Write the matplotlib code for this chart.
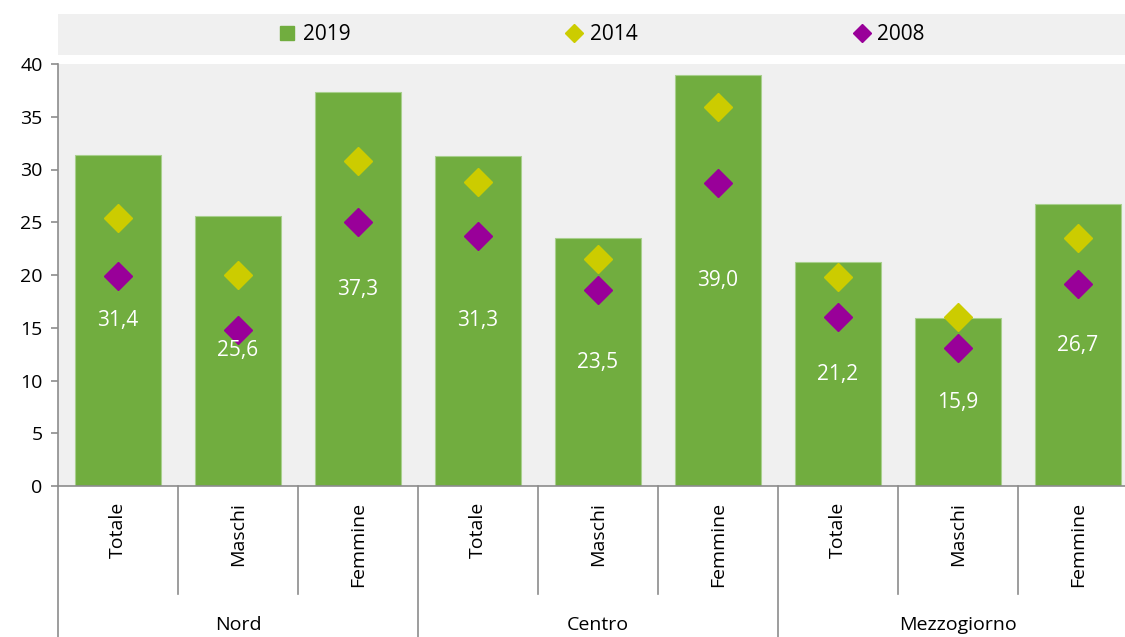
import matplotlib.pyplot as plt
from matplotlib.lines import Line2D
from matplotlib.transforms import blended_transform_factory

plt.rcParams['font.family'] = ['Open Sans', 'DejaVu Sans']

# data
groups = ['Nord', 'Centro', 'Mezzogiorno']
subcats = ['Totale', 'Maschi', 'Femmine']
val_2019 = [31.4, 25.6, 37.3, 31.3, 23.5, 39.0, 21.2, 15.9, 26.7]
val_2014 = [25.4, 20.0, 30.8, 28.8, 21.5, 35.9, 19.8, 16.0, 23.5]
val_2008 = [19.9, 14.8, 25.0, 23.7, 18.6, 28.7, 16.0, 13.1, 19.1]

GREEN = '#71ad3f'
YELLOW = '#cccc00'
PURPLE = '#990099'
GREY_BG = '#f0f0f0'
LINE = '#8c8c8c'

fig = plt.figure(figsize=(11.25, 6.37), dpi=100)
ax = fig.add_axes([58 / 1125, 1 - 486 / 637, 1080 / 1125, 422 / 637])
ax.set_facecolor(GREY_BG)

x = list(range(len(val_2019)))
ax.bar(x, val_2019, width=0.72, color=GREEN, edgecolor='#a8d08d', linewidth=0.8, zorder=2)
ax.plot(x, val_2014, 'D', color=YELLOW, markersize=14, linestyle='none', zorder=3)
ax.plot(x, val_2008, 'D', color=PURPLE, markersize=14, linestyle='none', zorder=3)

# value labels at bar centre
for xi, v in zip(x, val_2019):
    ax.text(xi, v / 2, f'{v:.1f}'.replace('.', ','), ha='center', va='center',
            color='white', fontsize=15, zorder=4)

ax.set_xlim(-0.5, len(x) - 0.5)
ax.set_ylim(0, 40)
ax.set_yticks(range(0, 41, 5))
ax.tick_params(axis='y', labelsize=14, color=LINE, length=5, width=1.2, pad=6)
ax.set_xticks([])
for s in ['top', 'right']:
    ax.spines[s].set_visible(False)
for s in ['left', 'bottom']:
    ax.spines[s].set_color(LINE)
    ax.spines[s].set_linewidth(1.2)

# multi-level category axis
tr = blended_transform_factory(ax.transData, ax.transAxes)
n = len(subcats)
for i, xi in enumerate(x):
    ax.text(xi, -0.038, subcats[i % n], transform=tr, rotation=90,
            ha='center', va='top', fontsize=14)
    if (i + 1) % n != 0:
        ax.plot([xi + 0.5, xi + 0.5], [0, -0.256], transform=tr, color=LINE,
                lw=1.2, clip_on=False)
for g, name in enumerate(groups):
    ax.plot([g * n - 0.5, g * n - 0.5], [0, -0.4], transform=tr, color=LINE,
            lw=1.2, clip_on=False)
    ax.text(g * n + (n - 1) / 2, -0.329, name, transform=tr, ha='center',
            va='center', fontsize=14)
ax.plot([len(x) - 0.5] * 2, [0, -0.4], transform=tr, color=LINE, lw=1.2, clip_on=False)

# legend on grey strip
lax = fig.add_axes([58 / 1125, 1 - 55 / 637, 1067 / 1125, 41 / 637])
lax.set_facecolor(GREY_BG)
lax.set_xticks([])
lax.set_yticks([])
for s in lax.spines.values():
    s.set_visible(False)
handles = [
    Line2D([], [], marker='s', color=GREEN, linestyle='none', markersize=9.5),
    Line2D([], [], marker='D', color=YELLOW, linestyle='none', markersize=9.5),
    Line2D([], [], marker='D', color=PURPLE, linestyle='none', markersize=9.5),
]
lax.legend(handles, ['2019', '2014', '2008'], loc='center', bbox_to_anchor=(0.51, 0.5),
           ncol=3, frameon=False, fontsize=15, handlelength=0.7, handletextpad=0.4,
           columnspacing=10.4)

fig.savefig('out.png', dpi=100)
